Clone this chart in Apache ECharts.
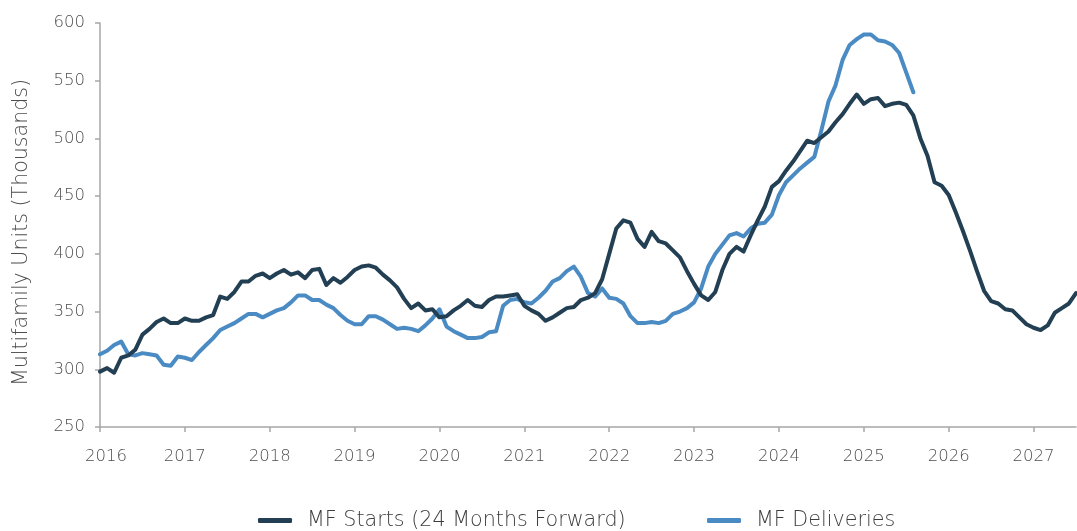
<!DOCTYPE html>
<html>
<head>
<meta charset="utf-8">
<script src="https://cdn.jsdelivr.net/npm/echarts@6/dist/echarts.min.js"></script>
<style>
  html, body { margin: 0; padding: 0; background: #fff; }
  #chart { width: 1077px; height: 531px; }
</style>
</head>
<body>
<div id="chart"></div>
<script>
// Monthly series, January 2016 onward (thousands of units)
const startYear = 2016;
const seriesNames = ['MF Starts (24 Months Forward)', 'MF Deliveries'];
const yearTicks = [2016, 2017, 2018, 2019, 2020, 2021, 2022, 2023, 2024, 2025, 2026, 2027];

const mfStarts = [
  298, 301, 297, 310, 312, 317, 330, 335, 341, 344, 340, 340,
  344, 342, 342, 345, 347, 363, 361, 367, 376, 376, 381, 383,
  379, 383, 386, 382, 384, 379, 386, 387, 373, 379, 375, 380,
  386, 389, 390, 388, 382, 377, 371, 361, 353, 357, 351, 352,
  345, 346, 351, 355, 360, 355, 354, 360, 363, 363, 364, 365,
  355, 351, 348, 342, 345, 349, 353, 354, 360, 362, 366, 378,
  400, 422, 429, 427, 413, 406, 419, 411, 409, 403, 397, 385,
  374, 364, 360, 367, 386, 400, 406, 402, 416, 429, 441, 458,
  463, 472, 480, 489, 498, 496, 501, 506, 514, 521, 530, 538,
  530, 534, 535, 528, 530, 531, 529, 520, 500, 485, 462, 459,
  451, 436, 420, 403, 385, 368, 359, 357, 352, 351, 345, 339,
  336, 334, 338, 349, 353, 357, 366
];

const mfDeliveries = [
  313, 316, 321, 324, 313, 312, 314, 313, 312, 304, 303, 311,
  310, 308, 315, 321, 327, 334, 337, 340, 344, 348, 348, 345,
  348, 351, 353, 358, 364, 364, 360, 360, 356, 353, 347, 342,
  339, 339, 346, 346, 343, 339, 335, 336, 335, 333, 338, 344,
  352, 337, 333, 330, 327, 327, 328, 332, 333, 355, 360, 361,
  358, 357, 362, 368, 376, 379, 385, 389, 380, 366, 363, 370,
  362, 361, 357, 346, 340, 340, 341, 340, 342, 348, 350, 353,
  358, 370, 389, 400, 408, 416, 418, 415, 422, 426, 427, 434,
  451, 462, 468, 474, 479, 484, 507, 532, 546, 568, 581, 586,
  590, 590, 585, 584, 581, 574, 557, 540
];

const toPoints = (vals) => vals.map((v, i) => [startYear + i / 12, v]);

const textColor = '#4d4d4d';
const axisColor = '#a6a6a6';
const uiFont = '"DejaVu Sans", Verdana, sans-serif';
const uiWeight = 200;
const tickSize = 16.5;

// One legend block per series so each key sits at its own spot
const legendBlock = (name, left) => ({
  left: left,
  top: 510,
  padding: 0,
  itemWidth: 34,
  itemHeight: 5,
  icon: 'roundRect',
  data: [name],
  textStyle: {
    fontFamily: uiFont,
    fontWeight: uiWeight,
    fontSize: 20.7,
    color: '#3d3d3d',
    padding: [0, 0, 0, 10]
  }
});

const chart = echarts.init(document.getElementById('chart'), null, { renderer: 'canvas' });

chart.setOption({
  animation: false,
  backgroundColor: '#ffffff',
  color: ['#233f53', '#4b8bc4'],
  grid: { left: 100, right: 1, top: 23, bottom: 104, containLabel: false },
  legend: [legendBlock(seriesNames[0], 258), legendBlock(seriesNames[1], 707)],
  xAxis: {
    type: 'value',
    min: yearTicks[0],
    max: 2027.5,
    interval: 1,
    splitLine: { show: false },
    axisLine: { show: true, lineStyle: { color: axisColor, width: 1.5 } },
    axisTick: { show: true, length: 5, lineStyle: { color: axisColor, width: 1.5 } },
    axisLabel: {
      margin: 21,
      color: textColor,
      fontFamily: uiFont,
      fontWeight: uiWeight,
      fontSize: tickSize,
      showMaxLabel: false,
      formatter: (v) => {
        if (!yearTicks.includes(v)) return '';
        return v === yearTicks[0] ? '{first|' + v + '}' : String(v);
      },
      rich: {
        first: {
          color: textColor,
          fontFamily: uiFont,
          fontWeight: uiWeight,
          fontSize: tickSize,
          padding: [0, 0, 0, 12]
        }
      }
    }
  },
  yAxis: {
    type: 'value',
    min: 250,
    max: 600,
    interval: 50,
    name: 'Multifamily Units (Thousands)',
    nameLocation: 'middle',
    nameGap: 68,
    nameTextStyle: {
      color: textColor,
      fontFamily: uiFont,
      fontWeight: uiWeight,
      fontSize: 20.6,
      padding: [0, 15, 0, 0]
    },
    splitLine: { show: false },
    axisLine: { show: true, lineStyle: { color: axisColor, width: 1.5 } },
    axisTick: { show: true, length: 5, lineStyle: { color: axisColor, width: 1.5 } },
    axisLabel: {
      margin: 15,
      color: textColor,
      fontFamily: uiFont,
      fontWeight: uiWeight,
      fontSize: tickSize
    }
  },
  series: [
    {
      name: seriesNames[0],
      type: 'line',
      data: toPoints(mfStarts),
      showSymbol: false,
      symbol: 'none',
      smooth: false,
      lineStyle: { width: 4, cap: 'round', join: 'round' },
      z: 3
    },
    {
      name: seriesNames[1],
      type: 'line',
      data: toPoints(mfDeliveries),
      showSymbol: false,
      symbol: 'none',
      smooth: false,
      lineStyle: { width: 4, cap: 'round', join: 'round' },
      z: 2
    }
  ]
});
</script>
</body>
</html>
